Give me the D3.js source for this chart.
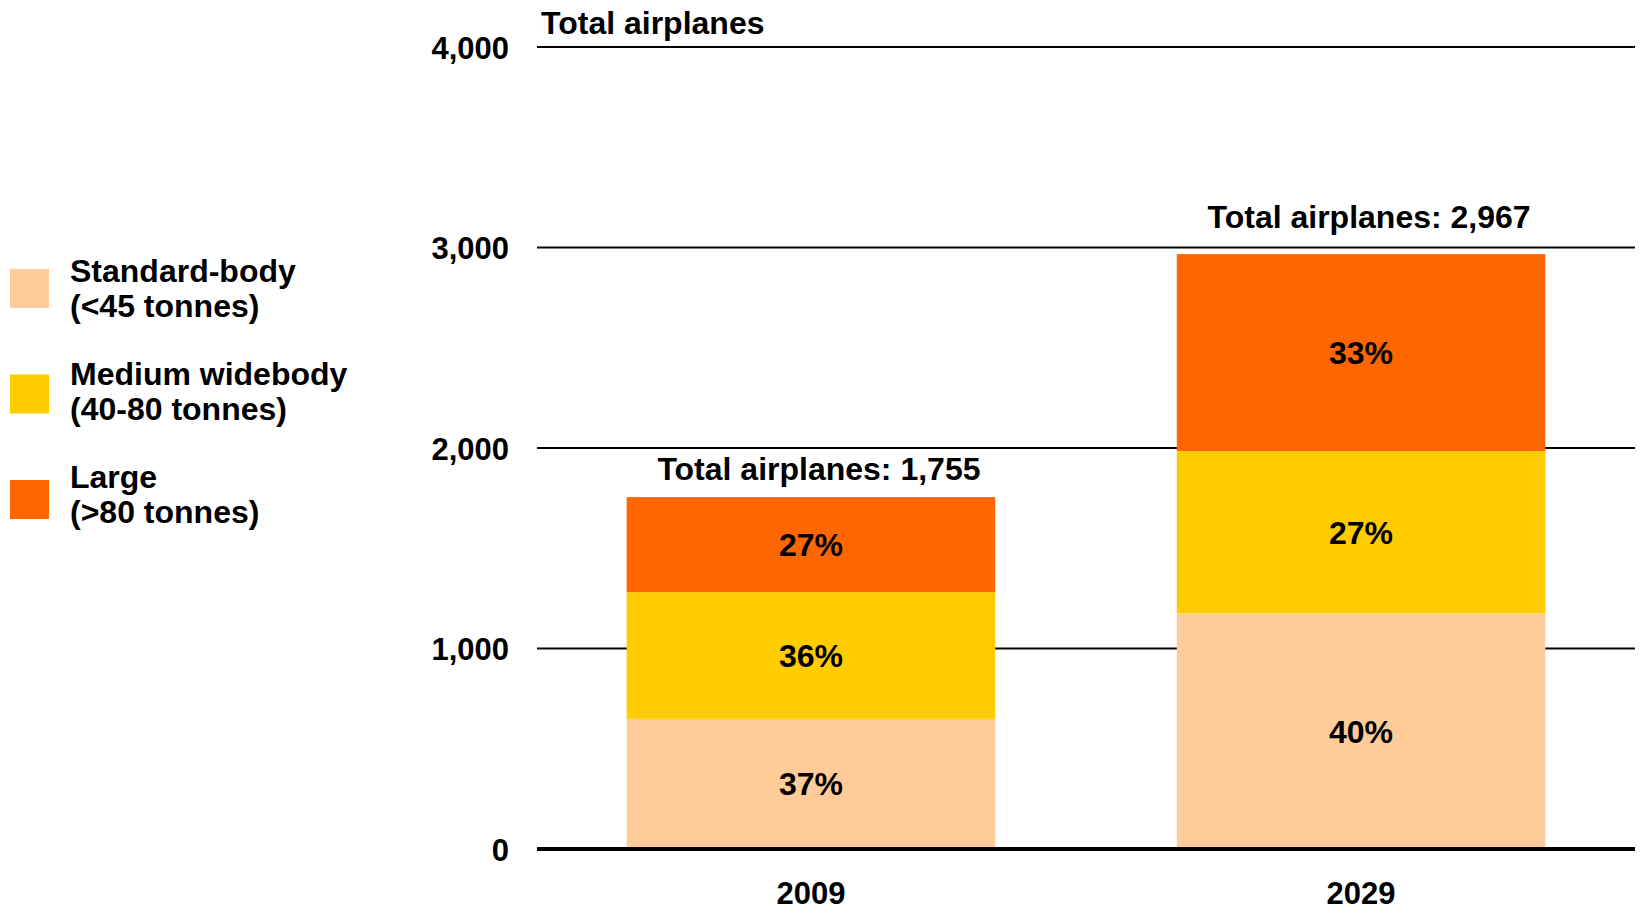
<!DOCTYPE html>
<html>
<head>
<meta charset="utf-8">
<script src="https://cdn.jsdelivr.net/npm/d3@7"></script>
<style>
  body { margin: 0; background: #fff; }
  text { font-family: "Liberation Sans", Arial, sans-serif; font-weight: bold; fill: #000; }
</style>
</head>
<body>
<svg id="chart" width="1640" height="913"></svg>
<script>
// data
var years = ["2009", "2029"];
var totals = [1755, 2967];
var standardBody = [649, 1175];
var mediumWidebody = [632, 810];
var large = [474, 982];
var pctLabels = [["37%", "36%", "27%"], ["40%", "27%", "33%"]];
var yTicks = [0, 1000, 2000, 3000, 4000];

var seriesNames = ["standard", "medium", "large"];
var colors = ["#FFCC99", "#FFCC00", "#FF6600"];
var legendLabels = [
  ["Standard-body", "(<45 tonnes)"],
  ["Medium widebody", "(40-80 tonnes)"],
  ["Large", "(>80 tonnes)"]
];

var svg = d3.select("#chart");

var plotLeft = 537, plotRight = 1635, plotTop = 47, plotBottom = 849;

var yScale = d3.scaleLinear()
  .domain([0, 4000])
  .range([plotBottom, plotTop]);

var xScale = d3.scaleBand()
  .domain(years)
  .range([plotLeft, plotRight])
  .paddingInner(0.33)
  .paddingOuter(0.163);

// rows for the stack
var rows = years.map(function(y, i) {
  return { year: y, standard: standardBody[i], medium: mediumWidebody[i], large: large[i] };
});
var stacked = d3.stack().keys(seriesNames)(rows);

// gridlines
svg.append("g")
  .selectAll("line")
  .data(yTicks.filter(function(t) { return t > 0; }))
  .enter()
  .append("line")
  .attr("x1", plotLeft)
  .attr("x2", plotRight)
  .attr("y1", function(d) { return yScale(d); })
  .attr("y2", function(d) { return yScale(d); })
  .attr("stroke", "#000")
  .attr("stroke-width", 2);

var yAxis = d3.axisLeft(yScale)
  .tickValues(yTicks)
  .tickSize(0)
  .tickPadding(0)
  .tickFormat(d3.format(","));

var yg = svg.append("g")
  .attr("transform", "translate(509,0)")
  .call(yAxis);
yg.select(".domain").remove();
yg.selectAll("text")
  .attr("x", 0)
  .attr("dy", "0.36em")
  .style("font-size", "31px")
  .style("font-family", "'Liberation Sans', Arial, sans-serif")
  .style("font-weight", "bold");

// bars
var layers = svg.append("g")
  .selectAll("g")
  .data(stacked)
  .enter()
  .append("g")
  .attr("fill", function(d, i) { return colors[i]; });

layers.selectAll("rect")
  .data(function(d) { return d; })
  .enter()
  .append("rect")
  .attr("x", function(d) { return xScale(d.data.year); })
  .attr("width", xScale.bandwidth())
  .attr("y", function(d) { return yScale(d[1]); })
  .attr("height", function(d) { return yScale(d[0]) - yScale(d[1]); });

// percentage labels
stacked.forEach(function(layer, si) {
  svg.append("g")
    .selectAll("text")
    .data(layer)
    .enter()
    .append("text")
    .attr("x", function(d) { return xScale(d.data.year) + xScale.bandwidth() / 2; })
    .attr("y", function(d) { return yScale((d[0] + d[1]) / 2); })
    .attr("dy", "0.36em")
    .attr("text-anchor", "middle")
    .style("font-size", "32px")
    .text(function(d, i) { return pctLabels[i][si]; });
});

// totals above bars, pushed above a gridline if the bar top is close to one
var totalY = function(t) {
  var y = yScale(t) - 17;
  yTicks.forEach(function(tick) {
    var gy = yScale(tick);
    if (gy < yScale(t) && yScale(t) - gy < 30) y = gy - 20;
  });
  return y;
};

svg.append("g")
  .selectAll("text")
  .data(years)
  .enter()
  .append("text")
  .attr("x", function(d) { return xScale(d) + xScale.bandwidth() / 2 + 8; })
  .attr("y", function(d, i) { return totalY(totals[i]); })
  .attr("text-anchor", "middle")
  .style("font-size", "32px")
  .text(function(d, i) { return "Total airplanes: " + d3.format(",")(totals[i]); });

// zero baseline
svg.append("line")
  .attr("x1", plotLeft)
  .attr("x2", plotRight)
  .attr("y1", yScale(0))
  .attr("y2", yScale(0))
  .attr("stroke", "#000")
  .attr("stroke-width", 4);

// x labels
var xAxis = d3.axisBottom(xScale).tickSize(0).tickPadding(0);
var xg = svg.append("g")
  .attr("transform", "translate(0," + (plotBottom + 55) + ")")
  .call(xAxis);
xg.select(".domain").remove();
xg.selectAll("text")
  .attr("y", 0)
  .attr("dy", 0)
  .style("font-size", "31px")
  .style("font-family", "'Liberation Sans', Arial, sans-serif")
  .style("font-weight", "bold");

// axis title
svg.append("text")
  .attr("x", plotLeft + 4)
  .attr("y", 34)
  .style("font-size", "32px")
  .text("Total airplanes");

// legend
var legend = svg.append("g");

legend.selectAll("rect")
  .data(legendLabels)
  .enter()
  .append("rect")
  .attr("x", 10)
  .attr("y", function(d, i) { return 269 + i * 105.5; })
  .attr("width", 39)
  .attr("height", 39)
  .attr("fill", function(d, i) { return colors[i]; });

legend.selectAll("text")
  .data(legendLabels)
  .enter()
  .append("text")
  .attr("y", function(d, i) { return 282 + i * 103; })
  .style("font-size", "32px")
  .selectAll("tspan")
  .data(function(d) { return d; })
  .enter()
  .append("tspan")
  .attr("x", 70)
  .attr("dy", function(d, i) { return i === 0 ? 0 : 34.5; })
  .text(function(d) { return d; });
</script>
</body>
</html>
